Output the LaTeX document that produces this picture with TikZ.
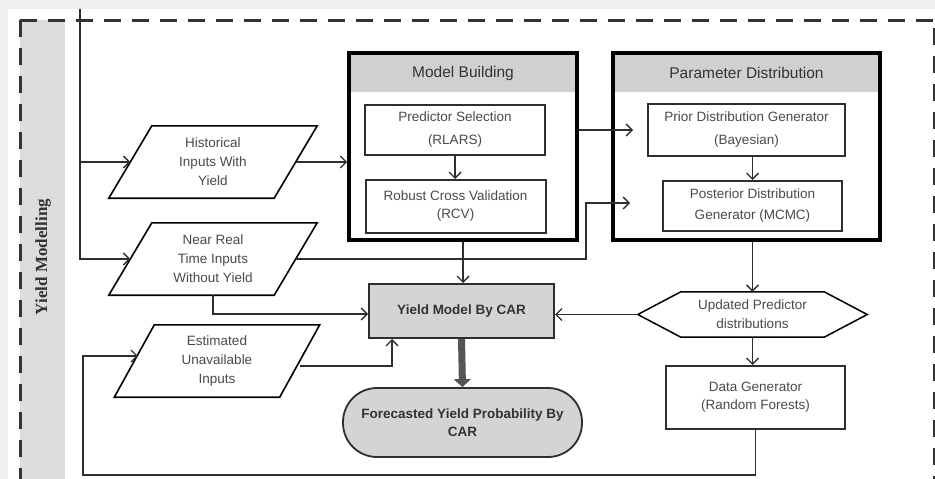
\documentclass[tikz,border=0pt]{standalone}
\usepackage{fontspec}
\setmainfont{Liberation Sans}
\newfontfamily\serifbf{Liberation Serif}
\usetikzlibrary{arrows.meta,calc}
\definecolor{outerbg}{HTML}{EFEFEF}
\definecolor{stripc}{HTML}{DCDCDC}
\definecolor{bandc}{HTML}{D0D0D0}
\definecolor{boxfill}{HTML}{D4D4D4}
\definecolor{linec}{HTML}{2E2E2E}
\definecolor{textc}{HTML}{4A4A4A}
\definecolor{titlec}{HTML}{333333}
\definecolor{dashc}{HTML}{333333}
\definecolor{fatc}{HTML}{555555}
\tikzset{
  body/.style={font=\fontsize{13.5}{19}\selectfont, text=textc, align=center},
  para/.style={body, minimum width=165pt, minimum height=72pt, inner sep=0pt},
  parab/.style={draw=black, line width=1.6pt, line join=miter},
  inbox/.style={body, draw=linec, line width=2pt, inner sep=0pt},
  bigbox/.style={draw=black, line width=3.6pt, minimum width=228pt, minimum height=187pt, inner sep=0pt,
     path picture={\fill[bandc] (path picture bounding box.north west) rectangle ([yshift=-39pt]path picture bounding box.north east);}},
  titletext/.style={font=\fontsize{15.5}{18}\selectfont, text=titlec},
  arr/.style={draw=linec, line width=1.3pt, -{Straight Barb[length=6pt,width=12pt]}},
  conn/.style={draw=linec, line width=1.3pt},
  fat/.style={draw=fatc, line width=7pt, -{Triangle[length=8pt,width=17pt]}},
  dashline/.style={draw=dashc, line width=3pt, dash pattern=on 17pt off 11pt}
}
\begin{document}
\begin{tikzpicture}[x=1pt,y=-1pt]
\useasboundingbox (0,0) rectangle (935,479);
% background and frame
\fill[outerbg] (0,0) rectangle (935,479);
\fill[white] (8,9) rectangle (935,479);
\fill[stripc] (20,20) rectangle (65,479);
\draw[dashline] (20,20) -- (935,20);
\draw[dashline] (20,20) -- (20,479);
\draw[dashline] (934,28) -- (934,479);
\node[rotate=90, font=\serifbf\bfseries\fontsize{17}{20}\selectfont, text=titlec] (ylab) at (43,257) {Yield Modelling};

% input parallelograms
\node[para] (hist) at (213,162) {Historical\\Inputs With\\Yield};
\node[para] (near) at (213,259) {Near Real\\Time Inputs\\Without Yield};
\node[para] (est) at (217,361) {Estimated\\Unavailable\\Inputs};
\draw[parab] ($(hist.south west)+(-21.5,0)$) -- ($(hist.south east)+(-21.5,0)$) -- ($(hist.north east)+(21.5,0)$) -- ($(hist.north west)+(21.5,0)$) -- cycle;
\draw[parab] ($(near.south west)+(-21.5,0)$) -- ($(near.south east)+(-21.5,0)$) -- ($(near.north east)+(21.5,0)$) -- ($(near.north west)+(21.5,0)$) -- cycle;
\draw[parab] ($(est.south west)+(-20,0)$) -- ($(est.south east)+(-20,0)$) -- ($(est.north east)+(20,0)$) -- ($(est.north west)+(20,0)$) -- cycle;

% model building
\node[bigbox] (mb) at (463,146.5) {};
\node[titletext] (mbt) at (463,73) {Model Building};
\node[inbox, minimum width=180pt, minimum height=50pt] (pred) at (455,130) {Predictor Selection\\[4pt](RLARS)};
\node[inbox, minimum width=180pt, minimum height=53pt] (rob) at (455.5,206.5) {Robust Cross Validation\\[-1pt](RCV)};

% parameter distribution
\node[bigbox, minimum width=267pt] (pd) at (746.5,146.5) {};
\node[titletext] (pdt) at (746.5,73) {Parameter Distribution};
\node[inbox, minimum width=197pt, minimum height=52pt] (prior) at (746.5,130) {Prior Distribution Generator\\[4pt](Bayesian)};
\node[inbox, minimum width=179pt, minimum height=50pt] (post) at (752.5,206) {Posterior Distribution\\[2pt]Generator (MCMC)};

% yield model and forecast
\node[draw=linec, line width=2pt, fill=boxfill, minimum width=185pt, minimum height=54pt, font=\bfseries\fontsize{13.5}{18}\selectfont, text=titlec] (yield) at (461.5,311) {Yield Model By CAR};
\node[draw=linec, line width=1.8pt, fill=boxfill, rounded corners=34pt, minimum width=239pt, minimum height=69pt, align=center, font=\bfseries\fontsize{13.5}{18}\selectfont, text=titlec] (fore) at (462.5,422.5) {Forecasted Yield Probability By\\CAR};

% hexagon and data generator
\node[body, minimum width=229pt, minimum height=45pt, inner sep=0pt] (hex) at (752.5,314.5) {Updated Predictor\\distributions};
\draw[parab, line width=1.5pt] (hex.west) -- ($(hex.north west)+(43,0)$) -- ($(hex.north east)+(-43,0)$) -- (hex.east) -- ($(hex.south east)+(-43,0)$) -- ($(hex.south west)+(43,0)$) -- cycle;
\node[inbox, minimum width=179pt, minimum height=63pt] (data) at (755.5,397.5) {Data Generator\\[-1pt](Random Forests)};

% connectors
\coordinate (trunk) at (80,9);
\draw[arr] (trunk) |- (near.west);
\draw[arr] (trunk |- hist.west) -- (hist.west);
\draw[arr] (hist.east) -- (hist.east -| mb.west);
\draw[arr] (pred.south) -- (pred.south |- rob.north);
\draw[arr, shorten >=14pt] (mb.east |- prior.west) -- (prior.west);
\draw[arr] (prior.south -| post.north) -- (post.north);
\coordinate (nbend) at (586,203);
\draw[arr, shorten >=32pt] (near.east) -| (nbend) -- (nbend -| post.west);
\draw[arr] (mb.south) -- (mb.south |- yield.north);
\draw[arr] (near.south) |- ([yshift=-3pt]yield.west);
\draw[arr] ([yshift=-5pt]est.east) -| ([xshift=-69.5pt]yield.south);
\draw[arr] (hex.west) -- (hex.west -| yield.east);
\draw[arr] (hex.north |- pd.south) -- (hex.north);
\draw[arr] (hex.south) -- (hex.south |- data.north);
\draw[fat] (yield.south) -- (fore.north);
\coordinate (fbL) at (83,475);
\coordinate (estin) at (138,356);
\draw[arr] (data.south) |- (fbL) |- (estin);
\end{tikzpicture}
\end{document}
